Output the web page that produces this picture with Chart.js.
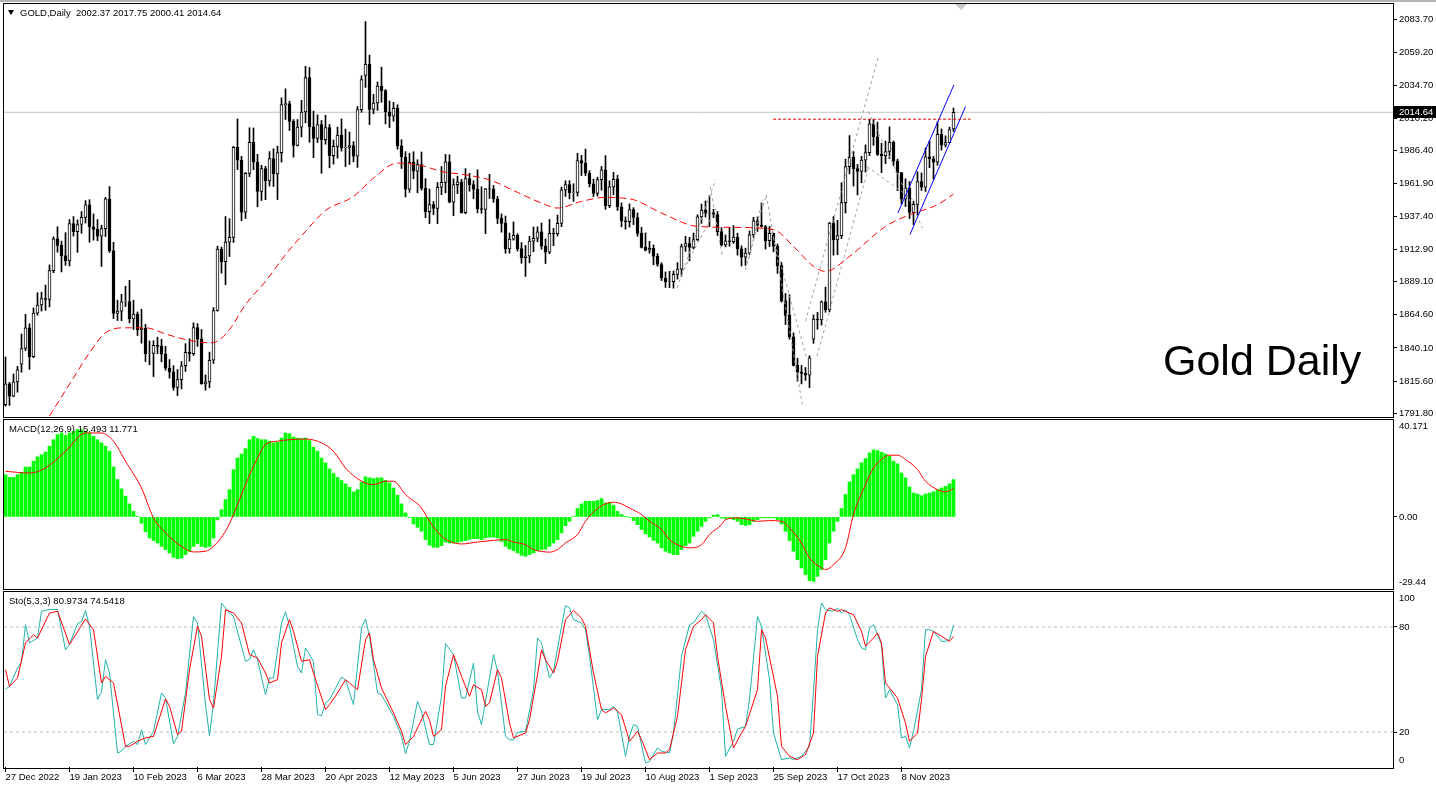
<!DOCTYPE html>
<html lang="en">
  <head>
    <title>GOLD,Daily</title>
    <meta charset="utf-8" />
    <style>
      body { margin: 0; width: 1436px; height: 786px; background: #fff; position: relative; overflow: hidden;
             font-family: "Liberation Sans", Arial, sans-serif; }
      canvas { position: absolute; left: 0; }
      .pane { position: absolute; left: 3px; width: 1391px; border: 1px solid #000; box-sizing: border-box; pointer-events: none; z-index: 2; }
      .txt { position: absolute; font-size: 9.5px; line-height: 1; color: #000; white-space: pre; z-index: 3; }
      .topband { position: absolute; left: 0; top: 0; width: 1436px; height: 2px; background: #b4b4b4; }
      .arrow { position: absolute; left: 8px; top: 10px; width: 0; height: 0; border-left: 3px solid transparent;
               border-right: 3px solid transparent; border-top: 5px solid #000; z-index: 3; }
      .shift { position: absolute; left: 955px; top: 4px; width: 0; height: 0; border-left: 6px solid transparent;
               border-right: 6px solid transparent; border-top: 6px solid #c8c8c8; z-index: 3; }
      .title { position: absolute; left: 1163px; top: 339px; font-size: 43px; line-height: 1; color: #000; z-index: 3; }
    </style>
  </head>
  <body>
    <div class="topband"></div>
    <canvas id="price" width="1436" height="418" style="top:0"></canvas>
    <canvas id="macd" width="1436" height="172" style="top:418px"></canvas>
    <canvas id="sto" width="1436" height="196" style="top:590px"></canvas>

    <div class="pane" style="top:3px;height:415px"></div>
    <div class="pane" style="top:419px;height:171px"></div>
    <div class="pane" style="top:591px;height:178px"></div>

    <div class="arrow"></div>
    <div class="shift"></div>
    <div class="txt" style="left:20px;top:8px">GOLD,Daily  2002.37 2017.75 2000.41 2014.64</div>
    <div class="txt" style="left:9px;top:424px">MACD(12,26,9) 15.493 11.771</div>
    <div class="txt" style="left:9px;top:596px">Sto(5,3,3) 80.9734 74.5418</div>
    <div class="title">Gold Daily</div>

    <script src="https://cdn.jsdelivr.net/npm/chart.js"></script>
    <script>
      // x axis: one unit per daily bar, bar 0 = 27 Dec 2022
      const tickBars = [0, 16, 32, 48, 64, 80, 96, 112, 128, 144, 160, 176, 192, 208, 224];
      const tickLabels = ["27 Dec 2022", "19 Jan 2023", "10 Feb 2023", "6 Mar 2023", "28 Mar 2023",
        "20 Apr 2023", "12 May 2023", "5 Jun 2023", "27 Jun 2023", "19 Jul 2023", "10 Aug 2023",
        "1 Sep 2023", "25 Sep 2023", "17 Oct 2023", "8 Nov 2023"];

      const priceTicks = [2083.7, 2059.2, 2034.7, 2010.2, 1986.4, 1961.9, 1937.4, 1912.9, 1889.1,
        1864.6, 1840.1, 1815.6, 1791.8];
      const macdTickLabels = ["40.171", "0.00", "-29.44"];
      const stoTickLabels = ["100", "80", "20", "0"];
      const stoLevels = [80, 20];

      const opens = [
        1798.0, 1813.6, 1804.4, 1815.0, 1828.0, 1839.7, 1854.9, 1833.6, 1865.9, 1871.9,
        1876.6, 1876.0, 1897.4, 1920.9, 1916.0, 1908.5, 1904.6, 1932.2, 1926.2, 1931.5,
        1936.8, 1946.0, 1929.8, 1927.9, 1922.9, 1928.4, 1950.6, 1912.0, 1865.6, 1867.4,
        1874.2, 1874.5, 1861.5, 1865.1, 1853.7, 1854.6, 1835.8, 1836.0, 1842.1, 1841.3,
        1835.5, 1825.1, 1822.4, 1810.9, 1816.6, 1826.9, 1836.9, 1835.9, 1855.2, 1846.6,
        1813.5, 1815.0, 1831.0, 1867.8, 1913.3, 1904.0, 1918.4, 1922.0, 1988.6, 1979.2,
        1940.6, 1969.4, 1992.3, 1977.8, 1956.1, 1973.0, 1963.8, 1980.3, 1969.0, 1984.7,
        2020.3, 2021.0, 2007.9, 1990.0, 2003.6, 2014.8, 2040.4, 2003.9, 1995.3, 2005.6,
        1994.3, 2003.2, 1982.5, 1989.4, 1997.8, 1988.4, 1988.6, 1989.9, 1982.2, 2016.6,
        2042.0, 2050.2, 2016.8, 2021.5, 2034.0, 2030.6, 2015.0, 2011.7, 2017.5, 1989.8,
        1981.5, 1957.6, 1977.7, 1971.0, 1975.8, 1958.3, 1941.0, 1946.2, 1943.5, 1959.1,
        1962.7, 1978.0, 1948.0, 1961.1, 1963.2, 1940.2, 1965.5, 1961.0, 1957.6, 1943.3,
        1942.6, 1957.9, 1957.8, 1950.4, 1936.0, 1932.4, 1913.4, 1920.7, 1923.4, 1913.7,
        1907.0, 1908.2, 1919.2, 1921.3, 1926.0, 1915.5, 1911.0, 1925.0, 1924.7, 1932.3,
        1957.1, 1961.0, 1955.0, 1955.2, 1978.9, 1976.9, 1969.5, 1961.7, 1954.6, 1964.8,
        1972.0, 1945.4, 1959.4, 1965.0, 1944.5, 1934.2, 1933.6, 1942.6, 1936.7, 1924.9,
        1914.6, 1912.5, 1913.8, 1907.9, 1901.9, 1891.9, 1889.0, 1889.2, 1894.6, 1898.5,
        1915.2, 1917.3, 1914.6, 1920.3, 1937.2, 1942.2, 1939.9, 1940.1, 1938.9, 1926.2,
        1916.4, 1919.4, 1918.8, 1922.2, 1913.5, 1907.4, 1910.4, 1923.9, 1934.3, 1931.0,
        1930.0, 1919.5, 1925.0, 1915.5, 1901.0, 1874.9, 1864.2, 1848.4, 1827.2, 1822.2,
        1821.3, 1820.0, 1846.5, 1861.4, 1860.8, 1874.2, 1868.5, 1932.6, 1920.0, 1923.3,
        1947.7, 1974.4, 1981.3, 1972.9, 1970.8, 1979.2, 1984.8, 2006.0, 1996.4, 1983.4,
        1982.5, 1985.6, 1992.3, 1978.4, 1969.9, 1950.3, 1958.4, 1940.5, 1946.4, 1963.3,
        1959.2, 1981.6, 1980.2, 1977.6, 1998.3, 1990.3, 1992.2, 2002.37
      ];
      const highs = [
        1833.4, 1814.6, 1820.8, 1826.5, 1850.4, 1865.0, 1858.0, 1869.7, 1881.0, 1881.4,
        1886.7, 1901.6, 1922.4, 1929.8, 1919.2, 1925.5, 1935.2, 1937.4, 1935.0, 1941.1,
        1949.2, 1949.9, 1939.3, 1935.2, 1931.0, 1951.6, 1959.6, 1918.4, 1875.5, 1879.8,
        1885.8, 1890.1, 1875.4, 1866.7, 1868.8, 1857.6, 1845.3, 1845.4, 1848.1, 1846.5,
        1841.3, 1831.5, 1827.0, 1824.1, 1830.1, 1843.3, 1846.9, 1858.7, 1858.1, 1853.7,
        1820.1, 1837.0, 1870.0, 1915.5, 1914.8, 1937.4, 1935.8, 1989.3, 2009.7, 1982.0,
        1970.0, 2003.2, 2003.0, 1983.5, 1975.4, 1974.6, 1985.5, 1987.6, 1989.6, 2025.3,
        2032.0, 2022.9, 2009.2, 2009.3, 2023.5, 2048.7, 2047.8, 2015.5, 2012.7, 2008.5,
        2012.4, 2005.6, 1994.1, 2003.6, 2009.7, 2002.2, 2000.0, 1992.9, 2018.9, 2041.7,
        2081.8, 2057.0, 2027.9, 2037.1, 2048.0, 2031.5, 2023.0, 2022.0, 2020.2, 1994.3,
        1985.5, 1984.3, 1985.4, 1979.5, 1985.2, 1965.5, 1957.8, 1948.6, 1962.6, 1974.4,
        1983.4, 1983.2, 1965.3, 1967.3, 1965.0, 1972.9, 1969.4, 1964.0, 1972.0, 1959.4,
        1958.3, 1968.6, 1960.5, 1952.3, 1939.3, 1937.8, 1925.2, 1933.4, 1924.7, 1918.1,
        1916.0, 1922.8, 1929.7, 1929.8, 1932.6, 1920.9, 1935.3, 1928.7, 1938.5, 1959.3,
        1963.9, 1964.0, 1961.7, 1984.2, 1982.8, 1987.4, 1971.4, 1965.2, 1966.6, 1974.5,
        1982.5, 1963.9, 1970.2, 1968.0, 1947.5, 1937.1, 1946.8, 1944.0, 1940.1, 1929.4,
        1925.3, 1919.0, 1916.4, 1909.9, 1903.2, 1896.4, 1896.9, 1897.1, 1903.3, 1917.0,
        1922.8, 1922.0, 1925.2, 1938.7, 1946.6, 1949.0, 1953.0, 1942.8, 1941.1, 1929.2,
        1923.8, 1929.2, 1930.7, 1925.1, 1915.7, 1914.0, 1926.7, 1936.8, 1937.1, 1947.5,
        1930.8, 1930.0, 1925.2, 1917.1, 1903.4, 1880.4, 1879.5, 1851.3, 1832.4, 1827.1,
        1825.6, 1834.3, 1864.5, 1866.4, 1875.0, 1885.1, 1933.1, 1937.4, 1934.6, 1962.5,
        1979.9, 1997.4, 1985.5, 1976.0, 1982.0, 1990.5, 2009.4, 2009.2, 2007.3, 1991.8,
        1993.3, 2003.8, 1993.4, 1979.9, 1970.1, 1965.3, 1963.3, 1948.8, 1970.6, 1969.7,
        1988.2, 1993.3, 1982.0, 2007.6, 2002.3, 1997.2, 2003.6, 2017.75
      ];
      const lows = [
        1796.9, 1797.5, 1803.9, 1807.3, 1822.1, 1838.0, 1824.2, 1832.9, 1864.3, 1867.4,
        1867.9, 1870.5, 1895.8, 1911.0, 1896.4, 1901.3, 1900.8, 1922.9, 1910.9, 1925.0,
        1932.6, 1918.4, 1919.9, 1919.5, 1900.4, 1922.6, 1910.8, 1861.8, 1860.4, 1860.3,
        1870.8, 1858.6, 1853.8, 1849.3, 1843.6, 1830.0, 1827.6, 1818.9, 1835.8, 1829.8,
        1823.6, 1817.7, 1808.8, 1804.8, 1809.7, 1822.7, 1830.3, 1834.6, 1841.3, 1813.2,
        1808.8, 1810.6, 1828.5, 1867.3, 1895.5, 1886.9, 1907.8, 1918.2, 1972.2, 1934.3,
        1936.0, 1967.0, 1972.2, 1944.6, 1949.3, 1949.9, 1960.0, 1959.6, 1950.0, 1977.8,
        2009.3, 2001.1, 1981.4, 1989.6, 1996.4, 2006.8, 1992.4, 1981.0, 1992.2, 1969.4,
        1991.0, 1973.5, 1976.2, 1980.6, 1985.9, 1974.4, 1976.0, 1977.9, 1973.8, 2014.6,
        2033.0, 2005.5, 2013.6, 2016.0, 2022.0, 2006.0, 2003.3, 2008.0, 1987.3, 1973.0,
        1951.9, 1955.3, 1965.4, 1955.0, 1956.9, 1936.5, 1932.1, 1938.9, 1932.2, 1953.6,
        1954.9, 1947.6, 1938.0, 1954.4, 1939.9, 1939.5, 1956.2, 1950.6, 1940.1, 1939.8,
        1924.7, 1950.7, 1947.9, 1932.2, 1925.8, 1910.2, 1910.3, 1919.9, 1911.9, 1902.8,
        1893.1, 1903.1, 1911.3, 1918.7, 1913.2, 1902.6, 1909.9, 1915.8, 1923.0, 1929.9,
        1952.3, 1950.5, 1948.7, 1952.6, 1967.8, 1967.6, 1959.3, 1952.2, 1952.6, 1956.9,
        1942.7, 1944.0, 1953.5, 1941.9, 1929.8, 1928.0, 1929.6, 1931.4, 1922.8, 1914.1,
        1911.9, 1910.2, 1901.7, 1900.6, 1890.0, 1884.9, 1884.7, 1884.4, 1891.0, 1893.2,
        1911.6, 1904.6, 1913.4, 1919.5, 1932.4, 1937.0, 1929.9, 1936.6, 1923.4, 1915.5,
        1915.0, 1915.4, 1917.4, 1908.8, 1900.8, 1901.2, 1909.3, 1922.0, 1926.4, 1929.6,
        1913.3, 1915.2, 1911.2, 1895.3, 1874.0, 1857.4, 1846.6, 1826.7, 1815.5, 1813.5,
        1816.1, 1810.7, 1843.5, 1853.9, 1857.0, 1866.5, 1866.8, 1908.8, 1909.2, 1921.0,
        1940.0, 1969.0, 1960.0, 1953.4, 1962.5, 1970.3, 1982.5, 1990.1, 1982.6, 1969.9,
        1976.6, 1980.3, 1975.2, 1956.6, 1946.8, 1944.8, 1935.9, 1931.5, 1938.6, 1956.7,
        1956.0, 1973.6, 1965.2, 1975.4, 1986.6, 1988.9, 1992.0, 2000.41
      ];
      const closes = [
        1813.6, 1804.4, 1815.0, 1823.8, 1839.7, 1854.9, 1833.6, 1865.9, 1871.9, 1876.6,
        1876.0, 1897.4, 1920.9, 1916.0, 1908.5, 1904.6, 1932.2, 1926.2, 1931.5, 1936.8,
        1946.0, 1929.8, 1927.9, 1922.9, 1928.4, 1950.6, 1912.0, 1865.6, 1867.4, 1874.2,
        1874.5, 1861.5, 1865.1, 1853.7, 1854.6, 1835.8, 1836.0, 1842.1, 1841.3, 1835.5,
        1825.1, 1822.4, 1810.9, 1816.6, 1826.9, 1836.9, 1835.9, 1855.2, 1846.6, 1813.5,
        1815.0, 1831.0, 1867.8, 1913.3, 1904.0, 1918.4, 1922.0, 1988.6, 1979.2, 1940.6,
        1969.4, 1992.3, 1977.8, 1956.1, 1973.0, 1963.8, 1980.3, 1969.0, 1984.7, 2020.3,
        2021.0, 2007.9, 1990.0, 2003.6, 2014.8, 2040.4, 2003.9, 1995.3, 2005.6, 1994.3,
        2003.2, 1982.5, 1989.4, 1997.8, 1988.4, 1988.6, 1989.9, 1982.2, 2016.6, 2038.8,
        2050.2, 2016.8, 2021.5, 2034.0, 2030.6, 2015.0, 2011.7, 2017.5, 1989.8, 1981.5,
        1957.6, 1977.7, 1971.0, 1975.8, 1958.3, 1941.0, 1946.2, 1943.5, 1959.1, 1962.7,
        1978.0, 1948.0, 1961.1, 1963.2, 1940.2, 1965.5, 1961.0, 1957.6, 1943.3, 1942.6,
        1957.9, 1957.8, 1950.4, 1936.0, 1932.4, 1913.4, 1920.7, 1923.4, 1913.7, 1907.0,
        1908.2, 1919.2, 1921.3, 1926.0, 1915.5, 1911.0, 1925.0, 1924.7, 1932.3, 1957.1,
        1961.0, 1955.0, 1955.2, 1978.9, 1976.9, 1969.5, 1961.7, 1954.6, 1964.8, 1972.0,
        1945.4, 1959.4, 1965.0, 1944.5, 1934.2, 1933.6, 1942.6, 1936.7, 1924.9, 1914.6,
        1912.5, 1913.8, 1907.9, 1901.9, 1891.9, 1889.0, 1889.2, 1894.6, 1898.5, 1915.2,
        1917.3, 1914.6, 1920.3, 1937.2, 1942.2, 1939.9, 1940.1, 1938.9, 1926.2, 1916.4,
        1919.4, 1918.8, 1922.2, 1913.5, 1907.4, 1910.4, 1923.9, 1934.3, 1931.0, 1930.0,
        1919.5, 1925.0, 1915.5, 1901.0, 1874.9, 1864.2, 1848.4, 1827.2, 1822.2, 1821.3,
        1820.0, 1832.7, 1861.4, 1860.8, 1874.2, 1868.5, 1932.6, 1920.0, 1923.3, 1947.7,
        1974.4, 1981.3, 1972.9, 1970.8, 1979.2, 1984.8, 2006.0, 1996.4, 1983.4, 1982.5,
        1985.6, 1992.3, 1978.4, 1969.9, 1950.3, 1958.4, 1940.5, 1946.4, 1963.3, 1959.2,
        1981.6, 1980.2, 1977.6, 1998.3, 1990.3, 1992.2, 2001.9, 2014.64
      ];

      // red dashed moving average, read at these bars
      const maBars = [11, 17, 21, 25, 30, 35, 40, 45, 51, 53, 56, 60, 65, 70, 75, 80, 87, 92, 98, 104,
        109, 115, 121, 128, 134, 138, 144, 150, 154, 157, 164, 173, 182, 192, 197, 202, 205, 211, 220,
        226, 233, 237];
      const maValues = [1789.6, 1818.0, 1836.5, 1851.3, 1855.0, 1855.0, 1850.5, 1846.3, 1843.9, 1845.1,
        1853.7, 1872.2, 1889.4, 1909.2, 1926.4, 1941.9, 1952.3, 1965.9, 1977.0, 1975.2, 1970.8, 1968.3,
        1964.6, 1955.3, 1947.4, 1943.7, 1948.6, 1951.6, 1951.1, 1949.9, 1940.0, 1930.1, 1929.4, 1927.7,
        1915.3, 1900.5, 1896.8, 1907.9, 1930.1, 1938.7, 1946.2, 1954.0];

      // chart objects: [startBar, startPrice, endBar, endPrice]
      const grayLines = [
        [167.9, 1884.6, 177.5, 1964.6], [169.6, 1898.1, 177.9, 1944.9], [176.2, 1959.7, 179.2, 1907.9],
        [185.0, 1898.1, 190.2, 1953.5], [185.8, 1905.5, 189.2, 1949.9], [190.2, 1953.5, 199.2, 1798.3],
        [191.2, 1930.1, 200.4, 1831.5], [200.0, 1859.9, 218.2, 2055.8], [202.9, 1834.0, 215.8, 1974.5],
        [215.8, 2015.1, 229.2, 1929.0], [215.4, 1974.5, 226.8, 1950.0]
      ];
      const blueLines = [[223.1, 1940.0, 237.1, 2034.9], [226.1, 1924.0, 240.0, 2018.8]];
      const resistance = [191.9, 2009.5, 241.3, 2009.5];

      const macdHist = [
        17.5, 16.4, 16.4, 17.5, 18.5, 20.7, 20.7, 23.1, 24.9, 25.8,
        26.9, 29.3, 32.0, 34.1, 34.8, 33.8, 34.8, 35.5, 36.2, 36.2,
        35.5, 34.8, 33.4, 32.0, 30.7, 29.3, 27.2, 20.7, 15.5, 11.6,
        8.6, 5.4, 2.3, 0.3, -2.6, -6.2, -8.7, -9.8, -10.8, -12.2,
        -13.5, -14.9, -16.7, -17.3, -17.0, -15.6, -14.2, -12.2, -11.0, -12.2,
        -12.6, -12.2, -8.7, -1.2, 3.0, 7.2, 11.3, 19.6, 24.4, 26.1,
        28.3, 32.0, 33.4, 32.5, 32.0, 32.0, 31.4, 30.7, 30.9, 32.7,
        34.8, 34.5, 33.1, 32.7, 32.5, 32.7, 31.6, 28.9, 27.2, 24.4,
        22.4, 19.9, 18.0, 16.4, 15.1, 13.7, 12.3, 10.4, 11.3, 14.4,
        16.6, 16.2, 15.9, 16.2, 16.2, 15.2, 14.1, 12.0, 9.0, 5.4,
        1.7, -0.1, -2.9, -4.3, -5.9, -9.4, -11.7, -12.6, -12.6, -11.9,
        -10.4, -10.8, -10.8, -10.5, -10.1, -9.8, -9.3, -9.0, -9.0, -9.4,
        -8.7, -8.4, -8.4, -8.7, -10.1, -12.2, -13.3, -14.0, -14.9, -15.9,
        -16.3, -15.6, -14.9, -14.0, -13.5, -13.3, -12.2, -10.8, -9.4, -6.6,
        -3.6, -1.8, 0.3, 3.5, 5.4, 6.5, 6.5, 6.5, 6.8, 7.6,
        5.8, 6.1, 4.8, 2.3, 1.0, 0.1, -0.1, -1.5, -3.2, -5.2,
        -7.0, -8.3, -9.7, -10.8, -12.8, -14.2, -14.9, -15.6, -15.6, -13.5,
        -11.9, -10.8, -8.0, -5.9, -3.9, -1.8, -0.4, 0.7, 1.0, -0.4,
        -0.7, -0.4, -1.1, -1.8, -3.2, -3.5, -3.2, -1.8, -1.1, -0.4,
        -0.4, -0.4, -0.4, -1.1, -2.9, -5.9, -9.8, -14.2, -17.7, -21.1,
        -23.9, -26.4, -26.7, -24.6, -21.8, -17.7, -10.8, -5.9, -1.8, 3.5,
        9.3, 14.5, 17.5, 19.9, 22.4, 24.2, 26.5, 27.8, 27.5, 26.8,
        26.1, 25.1, 23.1, 22.0, 18.2, 16.2, 12.4, 9.9, 9.5, 8.8,
        9.5, 9.9, 10.4, 11.3, 12.0, 12.7, 13.7, 15.493
      ];
      const signalBars = [0, 6, 10, 15, 20, 24, 27, 30, 34, 37, 40, 44, 47, 50, 52, 55, 57, 60, 63, 65,
        68, 71, 75, 79, 82, 85, 89, 92, 95, 97, 100, 104, 106, 109, 111, 114, 118, 122, 125, 127,
        130, 132, 135, 136, 138, 140, 143, 145, 148, 150, 152, 154, 156, 159, 161, 164, 166, 169, 171, 174,
        176, 179, 180, 183, 185, 188, 191, 194, 196, 199, 201, 204, 205, 207, 210, 212, 215, 217, 219, 221,
        223, 225, 228, 230, 233, 235, 236, 237];
      const signalValues = [18.9, 18.2, 20.3, 27.2, 34.8, 34.8, 31.4, 23.1, 12.0, -0.4,
        -6.6, -12.2, -14.5, -14.2, -12.2, -5.9, 1.0, 13.4, 24.4, 30.0,
        31.4, 32.0, 32.3, 30.7, 27.2, 20.3, 14.8, 13.4, 14.8, 14.8,
        9.3, 3.7, -1.8, -8.0, -10.1, -11.2, -10.4, -9.7, -9.4, -10.4,
        -11.5, -13.5, -14.5, -14.6, -13.5, -10.8, -7.3, -1.8, 3.5, 5.4,
        6.1, 5.4, 3.7, 1.0, -1.8, -5.2, -9.4, -12.2, -12.8, -11.5,
        -7.3, -3.2, -1.1, -0.4, -0.8, -1.8, -1.5, -1.8, -4.6, -10.8,
        -17.0, -21.1, -21.8, -19.8, -12.8, 1.0, 13.4, 20.3, 23.8, 25.6,
        25.6, 23.8, 19.6, 14.8, 11.3, 10.4, 10.9, 11.771];

      // stochastic %K (main) and %D (signal), read at their turning points
      const stoKBars = [0, 1, 3, 4, 5, 6, 8, 9, 11, 13, 15, 16, 18, 19, 20, 21, 23, 24, 25, 26,
        28, 29, 30, 32, 33, 34, 35, 37, 39, 40, 42, 43, 45, 47, 48, 50, 51, 52, 54, 56,
        57, 60, 61, 62, 63, 65, 66, 67, 69, 70, 71, 73, 74, 75, 77, 78, 79, 80, 81, 84,
        85, 87, 89, 90, 91, 93, 94, 97, 99, 100, 101, 103, 104, 106, 107, 109, 110, 112, 114, 115,
        117, 118, 119, 122, 123, 125, 126, 127, 128, 130, 132, 133, 134, 136, 137, 139, 140, 141, 142, 144,
        145, 146, 148, 149, 151, 152, 153, 155, 156, 157, 158, 160, 161, 163, 164, 166, 167, 169, 171, 172,
        174, 175, 177, 179, 180, 182, 183, 185, 186, 188, 189, 191, 192, 194, 196, 197, 199, 201, 202, 203,
        204, 205, 207, 208, 209, 210, 211, 213, 214, 215, 216, 217, 219, 220, 221, 223, 224, 225, 226, 227,
        229, 230, 231, 232, 234, 235, 236, 237];
      const stoKValues = [44.6, 46.0, 56.6, 60.0, 81.3, 70.9, 73.7, 89.0, 90.0, 90.0, 67.0, 70.0, 82.0, 83.0, 89.5, 80.4, 38.5, 43.0, 61.3, 53.7,
        8.0, 9.0, 11.8, 14.7, 12.8, 21.3, 12.8, 20.4, 42.3, 39.4, 13.3, 17.5, 42.3, 86.0, 82.3, 35.6, 17.9, 36.6, 93.7, 88.0,
        86.0, 60.4, 61.3, 67.0, 61.3, 41.3, 50.9, 50.9, 82.3, 88.6, 80.4, 57.5, 53.7, 68.0, 60.4, 30.0, 29.3, 36.6, 38.5, 51.4,
        49.9, 35.6, 79.4, 84.6, 74.7, 42.3, 41.3, 29.0, 17.5, 7.6, 14.7, 37.5, 31.8, 12.8, 12.8, 40.4, 70.5, 64.2, 39.4, 39.4,
        59.4, 31.8, 24.2, 64.2, 54.7, 17.5, 15.6, 15.6, 19.8, 20.4, 44.2, 73.7, 70.9, 50.9, 54.7, 80.4, 92.2, 90.9, 84.2, 82.3,
        78.5, 63.2, 27.0, 32.8, 32.8, 34.7, 31.8, 6.1, 17.5, 24.2, 23.2, 2.3, 3.2, 10.9, 9.0, 8.0, 19.4, 63.2, 81.3, 82.3,
        89.0, 87.0, 72.8, 44.2, 6.1, 14.7, 21.7, 23.2, 38.5, 86.0, 80.4, 49.9, 19.4, 4.2, 5.1, 4.2, 6.1, 11.8, 43.2, 78.5,
        93.7, 89.9, 89.0, 90.9, 88.0, 89.9, 87.0, 72.8, 68.0, 67.0, 79.4, 81.3, 69.9, 39.4, 44.2, 35.6, 16.6, 17.5, 10.9, 20.4,
        44.2, 78.5, 78.5, 77.5, 71.8, 71.8, 72.8, 80.9734];
      const stoDBars = [0, 1, 3, 5, 7, 8, 11, 13, 16, 20, 22, 24, 25, 27, 30, 31, 33, 35, 37, 40,
        41, 43, 44, 46, 48, 49, 51, 52, 54, 55, 57, 59, 61, 63, 65, 66, 68, 69, 71, 72,
        74, 76, 77, 80, 81, 83, 85, 86, 88, 90, 91, 92, 94, 97, 99, 100, 102, 105, 106, 107,
        109, 110, 112, 114, 116, 117, 119, 120, 121, 123, 124, 126, 127, 130, 131, 133, 134, 135, 137, 138,
        140, 142, 144, 145, 147, 149, 150, 152, 154, 156, 158, 159, 161, 163, 165, 166, 168, 170, 172, 174,
        175, 177, 178, 180, 182, 184, 185, 188, 189, 190, 193, 194, 196, 198, 200, 202, 203, 205, 206, 208,
        209, 211, 212, 214, 215, 217, 218, 219, 220, 222, 223, 225, 226, 228, 229, 230, 232, 234, 236, 237];
      const stoDValues = [55.6, 46.0, 50.9, 70.9, 75.6, 73.7, 88.0, 89.0, 70.0, 84.6, 78.5, 48.0, 51.8, 48.0, 11.8, 11.8, 14.7, 16.6, 17.5, 38.9,
        34.7, 18.5, 20.4, 55.6, 80.4, 74.7, 38.5, 33.7, 63.2, 89.9, 88.0, 82.3, 64.2, 62.3, 53.7, 48.0, 49.9, 70.9, 84.2, 77.5,
        60.4, 61.3, 53.7, 32.8, 35.6, 42.3, 49.9, 48.0, 44.2, 72.8, 76.6, 61.3, 45.1, 30.9, 20.4, 12.8, 17.5, 31.8, 27.0, 17.5,
        21.3, 46.1, 64.2, 51.8, 40.4, 47.0, 44.2, 34.7, 36.6, 55.6, 50.9, 25.1, 16.6, 19.4, 27.0, 52.8, 67.0, 61.3, 53.7, 60.4,
        84.2, 89.5, 85.1, 80.4, 53.7, 32.8, 30.9, 33.7, 29.9, 14.7, 20.4, 15.6, 4.2, 8.0, 8.0, 9.9, 29.0, 67.0, 80.4, 84.2,
        87.0, 82.3, 63.2, 34.7, 10.9, 19.4, 23.2, 44.2, 78.5, 73.7, 40.4, 11.8, 6.1, 4.2, 7.1, 19.4, 63.2, 88.0, 90.9, 89.0,
        89.9, 88.0, 87.0, 77.5, 69.0, 73.7, 76.6, 70.9, 48.0, 42.3, 39.4, 25.1, 14.7, 19.4, 38.5, 63.2, 77.5, 74.7, 71.8, 74.5418];

      document.addEventListener("DOMContentLoaded", () => {
        Chart.defaults.font.family = '"Liberation Sans", Arial, sans-serif';
        Chart.defaults.font.size = 9.5;
        Chart.defaults.color = "#000";
        Chart.defaults.animation = false;
        Chart.defaults.plugins.legend.display = false;
        Chart.defaults.plugins.tooltip.enabled = false;

        const X_MIN = -0.375;
        const X_MAX = 346.875;
        const hiddenX = { type: "linear", min: X_MIN, max: X_MAX, offset: false, display: false };

        const pts = (xs, ys) => xs.map((x, i) => ({ x: x, y: ys[i] }));
        const seg = (s) => [{ x: s[0], y: s[1] }, { x: s[2], y: s[3] }];

        // price-side axis; the scale's own label padding is dropped so the pane keeps its full height
        function rightAxis(min, max, values, texts, marked) {
          return {
            position: "right",
            min: min,
            max: max,
            afterFit: (s) => {
              s.width = 43;
              s.paddingTop = 0;
              s.paddingBottom = 0;
            },
            afterBuildTicks: (s) => { s.ticks = values.map((v) => ({ value: v })); },
            ticks: { autoSkip: false, padding: 2, color: "#000", callback: (v, i) => texts[i] },
            grid: {
              drawOnChartArea: false,
              tickLength: 4,
              tickColor: (c) => (marked[c.index] ? "#000" : "rgba(0,0,0,0)"),
            },
            border: { display: false },
          };
        }

        const lastClose = closes[closes.length - 1];
        const priceTag = {
          id: "priceTag",
          afterDraw(chart) {
            const y = chart.scales.y.getPixelForValue(lastClose);
            const ctx = chart.ctx;
            ctx.save();
            ctx.fillStyle = "#000";
            ctx.fillRect(chart.chartArea.right + 1, Math.round(y) - 6, 43, 12);
            ctx.fillStyle = "#fff";
            ctx.font = '9.5px "Liberation Sans", Arial, sans-serif';
            ctx.textBaseline = "middle";
            ctx.fillText(lastClose.toFixed(2), chart.chartArea.right + 6, Math.round(y) + 0.5);
            ctx.restore();
          },
        };

        const lineStyle = { type: "line", pointRadius: 0, borderWidth: 1, fill: false };

        const priceSets = [
          { ...lineStyle, data: [{ x: X_MIN, y: lastClose }, { x: X_MAX, y: lastClose }], borderColor: "#c0c0c0", order: 9 },
          {
            data: highs.map((h, i) => ({ x: i, y: [lows[i], h] })),
            backgroundColor: "#000",
            barThickness: 1,
            grouped: false,
            order: 4,
          },
          {
            data: opens.map((o, i) => ({ x: i, y: [o, closes[i]] })),
            backgroundColor: opens.map((o, i) => (closes[i] >= o ? "#fff" : "#000")),
            borderColor: "#000",
            borderWidth: 1,
            borderSkipped: false,
            barThickness: 3,
            grouped: false,
            order: 3,
          },
        ];
        grayLines.forEach((g) => {
          priceSets.push({ ...lineStyle, data: seg(g), borderColor: "#a0a0a0", borderDash: [3, 3], order: 2 });
        });
        priceSets.push({
          ...lineStyle,
          data: pts(maBars, maValues),
          borderColor: "#ff0000",
          borderDash: [7, 4],
          cubicInterpolationMode: "monotone",
          order: 1,
        });
        priceSets.push({ ...lineStyle, data: seg(resistance), borderColor: "#e00000", borderDash: [3, 2], order: 0 });
        blueLines.forEach((b) => {
          priceSets.push({ ...lineStyle, data: seg(b), borderColor: "#0000ff", order: 0 });
        });

        new Chart(document.getElementById("price"), {
          type: "bar",
          data: { datasets: priceSets },
          options: {
            responsive: false,
            devicePixelRatio: 1,
            layout: { padding: { left: 4, right: 0, top: 4, bottom: 1 }, autoPadding: false },
            scales: {
              x: hiddenX,
              y: rightAxis(1788.95, 2094.81, priceTicks, priceTicks.map((v) => v.toFixed(2)), priceTicks.map(() => true)),
            },
          },
          plugins: [priceTag],
        });

        new Chart(document.getElementById("macd"), {
          type: "bar",
          data: {
            datasets: [
              {
                data: macdHist.map((v, i) => ({ x: i, y: v })),
                backgroundColor: "#00ff00",
                barThickness: 3,
                grouped: false,
                order: 1,
              },
              {
                ...lineStyle,
                data: pts(signalBars, signalValues),
                borderColor: "#ff0000",
                cubicInterpolationMode: "monotone",
                order: 0,
              },
            ],
          },
          options: {
            responsive: false,
            devicePixelRatio: 1,
            layout: { padding: { left: 4, right: 0, top: 2, bottom: 2 }, autoPadding: false },
            scales: {
              x: hiddenX,
              y: rightAxis(-29.44, 40.171, [37.68, 0, -26.95], macdTickLabels, [false, true, false]),
            },
          },
        });

        const stoSets = stoLevels.map((lv) => ({
          ...lineStyle,
          data: [{ x: X_MIN, y: lv }, { x: X_MAX, y: lv }],
          borderColor: "#c0c0c0",
          borderDash: [3, 3],
          order: 3,
        }));
        stoSets.push({ ...lineStyle, data: pts(stoKBars, stoKValues), borderColor: "#20b2aa", order: 2 });
        stoSets.push({ ...lineStyle, data: pts(stoDBars, stoDValues), borderColor: "#ff0000", order: 1 });

        new Chart(document.getElementById("sto"), {
          type: "line",
          data: { datasets: stoSets },
          options: {
            responsive: false,
            devicePixelRatio: 1,
            layout: { padding: { left: 4, right: 0, top: 2, bottom: 0 }, autoPadding: false },
            scales: {
              x: {
                type: "linear",
                min: X_MIN,
                max: X_MAX,
                offset: false,
                afterFit: (s) => {
                  s.height = 19;
                  s.paddingLeft = 0;
                  s.paddingRight = 0;
                },
                afterBuildTicks: (s) => { s.ticks = tickBars.map((v) => ({ value: v })); },
                ticks: {
                  autoSkip: false,
                  maxRotation: 0,
                  align: "start",
                  padding: 0,
                  color: "#000",
                  callback: (v, i) => tickLabels[i],
                },
                grid: { drawOnChartArea: false, tickLength: 5, color: "#000" },
                border: { display: false },
              },
              y: rightAxis(0, 100, [96.6, 80, 20, 3.6], stoTickLabels, [false, true, true, false]),
            },
          },
        });
      });
    </script>
  </body>
</html>
